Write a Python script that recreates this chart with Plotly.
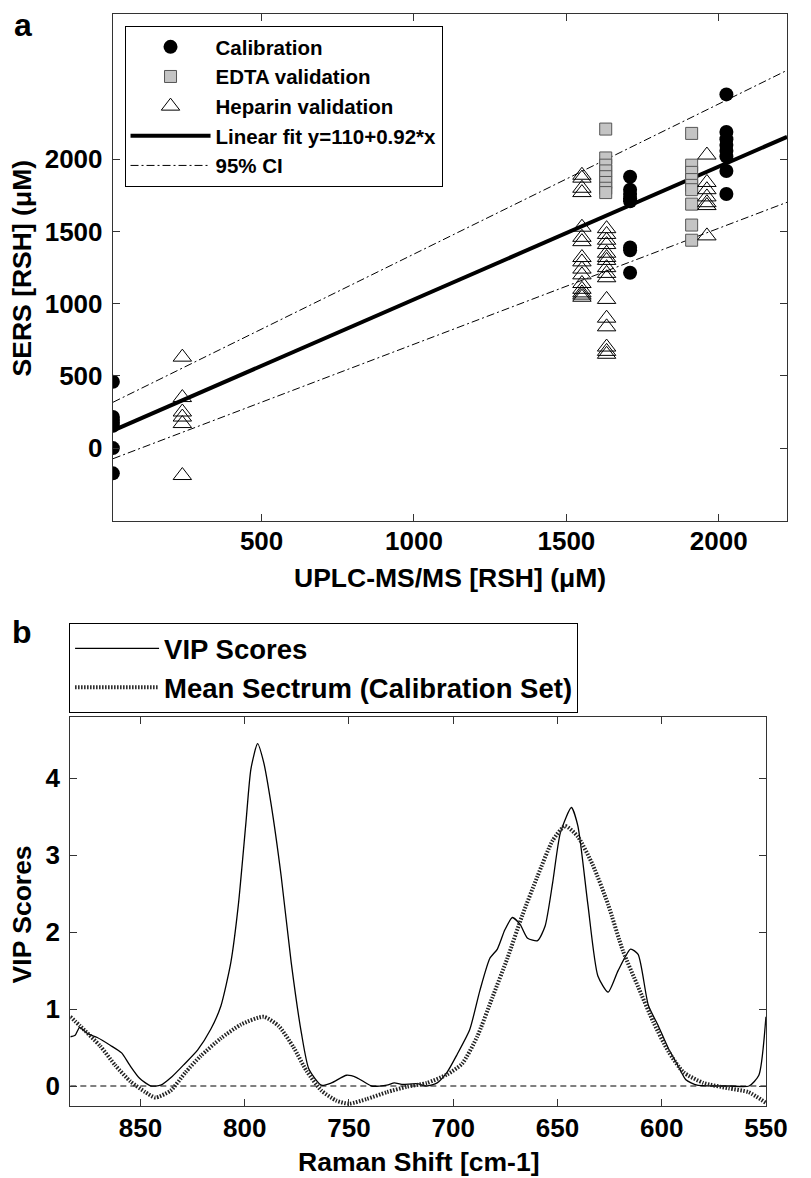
import plotly.graph_objects as go

FONT = "Liberation Sans, Arial, Helvetica, sans-serif"

# ---------------- Panel a data ----------------
cal_x = [12]*7 + [1709]*8 + [2025]*8
cal_y = [460, 215, 195, 175, 155, 0, -175,
         1880, 1790, 1760, 1730, 1710, 1390, 1370, 1215,
         2450, 2190, 2140, 2100, 2060, 2020, 1920, 1760]

edta_x = [1629]*8 + [1911]*9
edta_y = [2210, 2010, 1960, 1920, 1880, 1840, 1800, 1770,
          2180, 1960, 1910, 1860, 1820, 1790, 1690, 1545, 1440]

hep_x = [240]*6 + [1551]*16 + [1632]*16 + [1961]*7
hep_y = [630, 350, 250, 215, 170, -190,
         1890, 1870, 1800, 1770, 1530, 1460, 1430, 1320, 1290, 1240, 1200, 1140, 1100, 1075, 1060, 1045,
         1520, 1480, 1440, 1410, 1350, 1320, 1300, 1250, 1210, 1180, 1030, 900, 840, 700, 670, 650,
         2030, 1840, 1790, 1740, 1700, 1680, 1470]

fit_x = [12, 2224]
fit_y = [121, 2156]
ci_x = [12, 2224]
ci_upper = [317, 2617]
ci_lower = [-74, 1703]

a_xticks = [500, 1000, 1500, 2000]
a_yticks = [0, 500, 1000, 1500, 2000]

# ---------------- Panel b data ----------------
vip_x = [883.6, 881.3, 879.2, 875.3, 870.7, 864.5, 859.0, 855.1, 850.4, 845.0, 840.3, 834.9,
         828.7, 822.5, 816.2, 811.4, 806.6, 803.0, 799.4, 797.0, 793.8, 790.9, 787.3, 782.5,
         777.7, 772.8, 769.2, 763.2, 758.4, 751.1, 746.3, 739.1, 731.8, 728.2, 724.6, 717.4,
         712.6, 707.7, 702.9, 698.1, 692.1, 687.2, 682.4, 678.8, 675.2, 671.6, 667.9, 664.3,
         659.5, 655.9, 652.3, 648.6, 643.3, 640.2, 635.4, 630.6, 625.7, 620.9, 614.9, 611.3,
         606.4, 601.6, 597.0, 592.3, 588.4, 583.0, 567.4, 558.1, 553.4, 550.0]
vip_y = [0.64, 0.66, 0.76, 0.68, 0.63, 0.53, 0.43, 0.27, 0.10, 0.00, 0.01, 0.12,
         0.29, 0.47, 0.74, 1.04, 1.61, 2.36, 3.42, 4.12, 4.45, 4.21, 3.66, 2.73,
         1.61, 0.69, 0.22, 0.01, 0.04, 0.14, 0.11, 0.00, 0.01, 0.04, 0.02, 0.03,
         0.00, 0.04, 0.18, 0.41, 0.73, 1.24, 1.66, 1.78, 2.03, 2.19, 2.10, 1.92,
         1.89, 2.08, 2.64, 3.29, 3.62, 3.38, 2.36, 1.43, 1.22, 1.50, 1.78, 1.71,
         1.05, 0.78, 0.50, 0.27, 0.08, 0.01, 0.00, 0.00, 0.14, 0.90]

mean_x = [883.6, 878.9, 869.3, 862.1, 854.8, 847.6, 842.8, 835.5, 828.3, 821.1, 811.4, 801.7,
          790.9, 783.7, 776.5, 770.4, 763.2, 756.0, 749.9, 741.5, 731.8, 722.2, 712.6, 702.9,
          695.7, 688.5, 681.2, 674.0, 666.8, 659.5, 652.3, 646.3, 640.2, 633.0, 625.7, 618.5,
          611.3, 604.0, 596.8, 589.6, 580.0, 567.9, 558.3, 550.0]
mean_y = [0.90, 0.78, 0.52, 0.27, 0.06, -0.08, -0.15, -0.06, 0.18, 0.39, 0.62, 0.80,
          0.90, 0.78, 0.50, 0.20, -0.06, -0.19, -0.23, -0.17, -0.08, -0.01, 0.04, 0.15,
          0.29, 0.64, 1.15, 1.66, 2.22, 2.73, 3.19, 3.38, 3.24, 2.87, 2.36, 1.75,
          1.29, 0.83, 0.45, 0.18, 0.04, -0.03, -0.08, -0.22]

b_xticks = [850, 800, 750, 700, 650, 600, 550]
b_yticks = [0, 1, 2, 3, 4]

W, H = 811, 1178

fig = go.Figure()

# Panel a lines (drawn first)
fig.add_trace(go.Scatter(x=fit_x, y=fit_y, mode="lines", name="Linear fit y=110+0.92*x",
                         line=dict(color="black", width=4), xaxis="x", yaxis="y",
                         legend="legend", legendrank=4))
fig.add_trace(go.Scatter(x=ci_x + [None] + ci_x, y=ci_upper + [None] + ci_lower, mode="lines",
                         name="95% CI", line=dict(color="black", width=1, dash="8px,3px,2px,3px"),
                         xaxis="x", yaxis="y", legend="legend", legendrank=5))
fig.add_trace(go.Scatter(x=cal_x, y=cal_y, mode="markers", name="Calibration",
                         marker=dict(symbol="circle", size=14, color="black"),
                         xaxis="x", yaxis="y", legend="legend", legendrank=1))
fig.add_trace(go.Scatter(x=edta_x, y=edta_y, mode="markers", name="EDTA validation",
                         marker=dict(symbol="square", size=12, color="#c4c4c4",
                                     line=dict(color="#555555", width=1)),
                         xaxis="x", yaxis="y", legend="legend", legendrank=2))
fig.add_trace(go.Scatter(x=hep_x, y=hep_y, mode="markers", name="Heparin validation",
                         marker=dict(symbol="triangle-up-open", size=16, color="black",
                                     line=dict(width=1)),
                         xaxis="x", yaxis="y", legend="legend", legendrank=3))

# Panel b
fig.add_trace(go.Scatter(x=vip_x, y=vip_y, mode="lines", name="VIP Scores",
                         line=dict(color="black", width=1.3, shape="spline", smoothing=0.6),
                         xaxis="x2", yaxis="y2", legend="legend2", legendrank=1))
fig.add_trace(go.Scatter(x=mean_x, y=mean_y, mode="lines", name="Mean Sectrum (Calibration Set)",
                         line=dict(color="#222222", width=4, dash="1.5px,1.5px", shape="spline",
                                   smoothing=0.6),
                         xaxis="x2", yaxis="y2", legend="legend2", legendrank=2))

axis_common = dict(showline=True, linecolor="#333333", linewidth=1.2, mirror="ticks",
                   ticks="inside", ticklen=7, tickwidth=1, tickcolor="#333333",
                   showgrid=False, zeroline=False,
                   tickfont=dict(family=FONT, size=26, color="black", weight="bold"))

fig.update_layout(
    width=W, height=H,
    margin=dict(l=0, r=0, t=0, b=0),
    paper_bgcolor="white", plot_bgcolor="white",
    xaxis=dict(domain=[116/W, 809/W], range=[12, 2224], tickvals=a_xticks,
               anchor="y", ticklabelstandoff=-3, **axis_common),
    yaxis=dict(domain=[1-521/H, 1-14.3/H], range=[-505, 3005], tickvals=a_yticks,
               anchor="x", ticklabelstandoff=4, **axis_common),
    xaxis2=dict(domain=[72.3/W, 787.3/W], range=[883.6, 550], tickvals=b_xticks,
                anchor="y2", ticklabelstandoff=-1, **axis_common),
    yaxis2=dict(domain=[1-1106/H, 1-716.7/H], range=[-0.26, 4.8], tickvals=b_yticks,
                anchor="x2", ticklabelstandoff=4, **axis_common),
    legend=dict(x=128/W, y=1-26/H, xanchor="left", yanchor="top", bgcolor="white",
                bordercolor="black", borderwidth=1, itemwidth=80, tracegroupgap=0,
                font=dict(family=FONT, size=20.5, color="black", weight="bold")),
    legend2=dict(x=71/W, y=1-623/H, xanchor="left", yanchor="top", bgcolor="white",
                 bordercolor="black", borderwidth=1, itemwidth=84, tracegroupgap=0,
                 font=dict(family=FONT, size=27.5, color="black", weight="bold")),
    showlegend=True,
    shapes=[dict(type="line", xref="x2 domain", x0=0, x1=1, yref="y2", y0=0, y1=0,
                 line=dict(color="black", width=1, dash="6px,4px"), layer="below")],
)

title_font = dict(family=FONT, size=26.5, color="black", weight="bold")
ann = [
    dict(text="a", x=12/W, y=1-5/H, xanchor="left", yanchor="top",
         font=dict(family=FONT, size=32, color="black", weight="bold")),
    dict(text="b", x=10/W, y=1-612/H, xanchor="left", yanchor="top",
         font=dict(family=FONT, size=32, color="black", weight="bold")),
    dict(text="UPLC-MS/MS [RSH] (\u03bcM)", x=462.5/W, y=1-578/H, xanchor="center",
         yanchor="middle", font=title_font),
    dict(text="SERS [RSH] (\u03bcM)", x=23/W, y=1-268/H, xanchor="center",
         yanchor="middle", textangle=-90, font=title_font),
    dict(text="Raman Shift [cm-1]", x=430/W, y=1-1162/H, xanchor="center",
         yanchor="middle", font=title_font),
    dict(text="VIP Scores", x=23/W, y=1-914/H, xanchor="center",
         yanchor="middle", textangle=-90, font=title_font),
]
for a in ann:
    a.update(xref="paper", yref="paper", showarrow=False)
fig.update_layout(annotations=ann)

fig.write_html("out.html", config={"displayModeBar": False},
               post_script="document.body.style.margin='0px';")
